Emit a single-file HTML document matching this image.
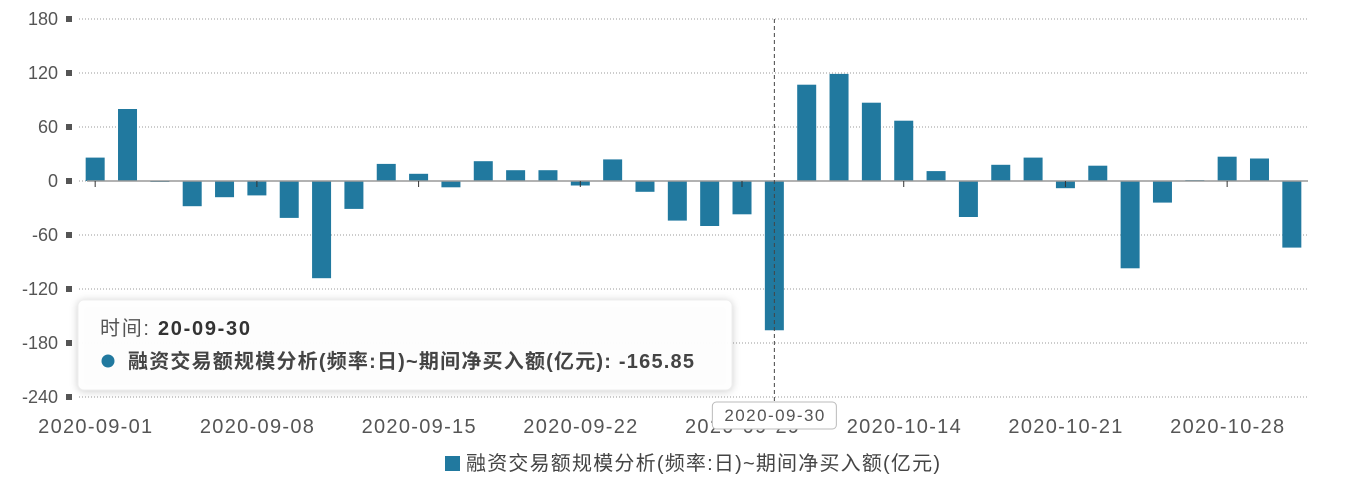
<!DOCTYPE html>
<html><head><meta charset="utf-8"><style>
body{margin:0;background:#fff;font-family:"Liberation Sans","Noto Sans CJK SC",sans-serif;}
svg text{font-family:"Liberation Sans","Noto Sans CJK SC",sans-serif;}
</style></head><body>
<svg id="c" width="1357" height="490"></svg>
<script>
const categories=["2020-09-01","2020-09-02","2020-09-03","2020-09-04","2020-09-07","2020-09-08","2020-09-09","2020-09-10","2020-09-11","2020-09-14","2020-09-15","2020-09-16","2020-09-17","2020-09-18","2020-09-21","2020-09-22","2020-09-23","2020-09-24","2020-09-25","2020-09-28","2020-09-29","2020-09-30","2020-10-09","2020-10-12","2020-10-13","2020-10-14","2020-10-15","2020-10-16","2020-10-19","2020-10-20","2020-10-21","2020-10-22","2020-10-23","2020-10-26","2020-10-27","2020-10-28","2020-10-29","2020-10-30"];
const values=[26,80,-1,-28,-18,-16,-41,-108,-31,19,8,-7,22,12,12,-5,24,-12,-44,-50,-37,-165.85,107,119,87,67,11,-40,18,26,-8,17,-97,-24,1,27,25,-74];
const yTicks=[180,120,60,0,-60,-120,-180,-240];
const xLabelEvery=5;
const seriesName="融资交易额规模分析(频率:日)~期间净买入额(亿元)";
const hoverIndex=21;

const NS="http://www.w3.org/2000/svg";
const svg=document.getElementById('c');
const L=79,R=1308,T=19,B=397,yMax=180,yMin=-240;
const y=v=>T+(yMax-v)/(yMax-yMin)*(B-T);
const band=(R-L)/categories.length;
const x=i=>L+band*(i+0.5);
function mk(tag,a,p){const e=document.createElementNS(NS,tag);for(const k in a)e.setAttribute(k,a[k]);(p||svg).appendChild(e);return e;}

yTicks.forEach(t=>{
  const g=mk('line',{x1:L,x2:R,y1:y(t),y2:y(t),stroke:'#999','stroke-dasharray':'1,2'});
  
  
  const m=mk('rect',{x:66,y:y(t)-3,width:6,height:6,fill:'#555'});
  
  
  const tx=mk('text',{x:58,y:y(t)+6,'text-anchor':'end','font-size':18,fill:'#555'});
  tx.textContent=t;
  
  
});
values.forEach((v,i)=>{
  const y0=y(0),y1=y(v);
  const r=mk('rect',{x:x(i)-9.5,y:Math.min(y0,y1),width:19,height:Math.max(1,Math.abs(y1-y0)),fill:'#21799f'});
  
  
});
const z=mk('line',{x1:L+8,x2:R,y1:y(0),y2:y(0),stroke:'#999','stroke-width':1.5});


categories.forEach((c,i)=>{
  if(i%xLabelEvery) return;
  const tk=mk('line',{x1:x(i),x2:x(i),y1:y(0),y2:y(0)+6,stroke:'#333'});
  
  
  const tx=mk('text',{x:x(i)-57,y:433,'font-size':20,fill:'#555',textLength:114,lengthAdjust:'spacing'});
  tx.textContent=c;
  
  
});
// crosshair
const hx=x(hoverIndex);
const ch=mk('line',{x1:hx,x2:hx,y1:19,y2:402,stroke:'#444','stroke-dasharray':'4,3'});


const ab=mk('rect',{x:hx-62,y:402,width:124,height:27,rx:4,fill:'#fff',stroke:'#bbb'});


const at=mk('text',{x:hx-50,y:421,'font-size':17,fill:'#555',textLength:100,lengthAdjust:'spacing'});
at.textContent=categories[hoverIndex];


// tooltip
const tb=mk('rect',{x:78,y:300,width:654,height:90,rx:6,fill:'rgba(255,255,255,0.96)',stroke:'#eee'});


tb.style.filter='drop-shadow(0 1px 4px rgba(0,0,0,0.2))';
const t1=mk('text',{x:100,y:335,'font-size':20,fill:'#555',textLength:150,lengthAdjust:'spacing'});
t1.innerHTML='时间: <tspan font-weight="bold" fill="#333">'+categories[hoverIndex].slice(2)+'</tspan>';


const dot=mk('circle',{cx:108,cy:361,r:6.5,fill:'#21799f'});


const t2=mk('text',{x:128,y:368,'font-size':20,'font-weight':'bold',fill:'#444',textLength:566,lengthAdjust:'spacing'});
t2.textContent=seriesName+': '+values[hoverIndex];


// legend
const lr=mk('rect',{x:445,y:456,width:15,height:15,fill:'#21799f'});


const lt=mk('text',{x:466,y:470,'font-size':20,fill:'#444',textLength:474,lengthAdjust:'spacing'});
lt.textContent=seriesName;


</script>
</body></html>
